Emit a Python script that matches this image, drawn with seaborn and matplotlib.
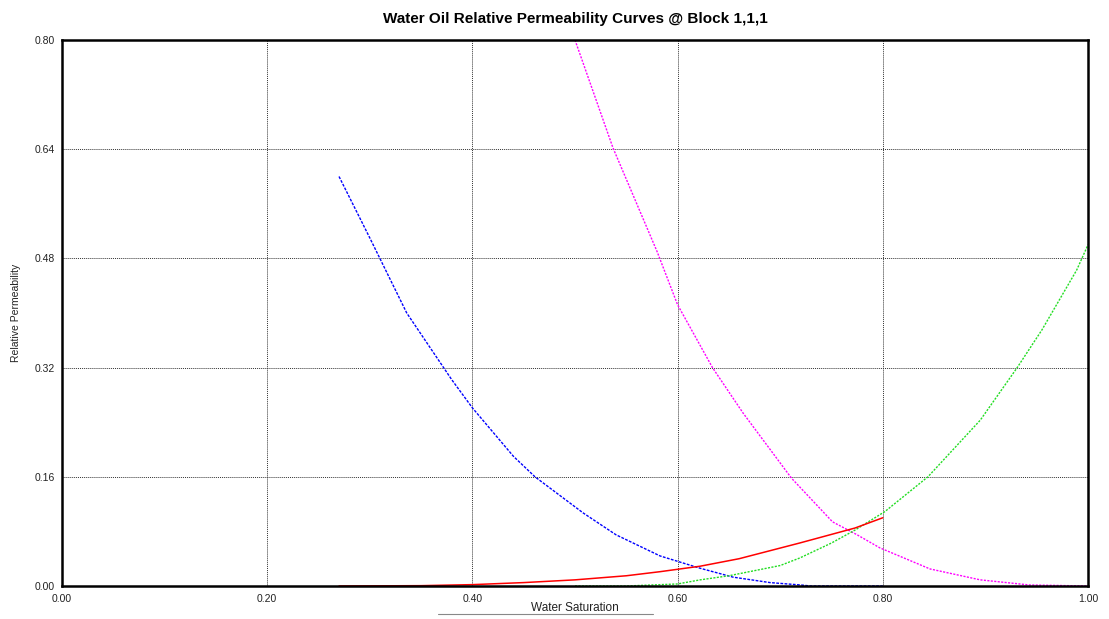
import matplotlib
matplotlib.use("Agg")
import matplotlib.pyplot as plt
import seaborn as sns
import numpy as np
from matplotlib.lines import Line2D

# ---- data ----
sw_blue = [0.27, 0.30, 0.336, 0.38, 0.40, 0.44, 0.461, 0.508, 0.54, 0.583, 0.622, 0.654, 0.69, 0.72, 0.73, 0.80]
kr_blue = [0.60, 0.51, 0.40, 0.302, 0.261, 0.19, 0.16, 0.107, 0.075, 0.044, 0.026, 0.013, 0.005, 0.0015, 0.0, 0.0]

sw_magenta = [0.50, 0.537, 0.58, 0.60, 0.634, 0.664, 0.711, 0.751, 0.775, 0.797, 0.846, 0.895, 0.943, 1.00]
kr_magenta = [0.80, 0.642, 0.49, 0.412, 0.32, 0.253, 0.158, 0.094, 0.075, 0.056, 0.025, 0.009, 0.0015, 0.0]

sw_green = [0.50, 0.55, 0.60, 0.622, 0.65, 0.70, 0.719, 0.75, 0.773, 0.802, 0.844, 0.895, 0.931, 0.955, 0.989, 1.00]
kr_green = [0.0, 0.0, 0.003, 0.009, 0.015, 0.030, 0.041, 0.063, 0.082, 0.109, 0.16, 0.243, 0.32, 0.375, 0.463, 0.50]

sw_red = [0.27, 0.35, 0.40, 0.45, 0.50, 0.55, 0.583, 0.622, 0.66, 0.719, 0.773, 0.80]
kr_red = [0.0, 0.0005, 0.002, 0.005, 0.009, 0.015, 0.021, 0.029, 0.040, 0.063, 0.085, 0.10]

x_ticks = [0.0, 0.2, 0.4, 0.6, 0.8, 1.0]
y_ticks = [0.0, 0.16, 0.32, 0.48, 0.64, 0.80]

title = "Water Oil Relative Permeability Curves @ Block 1,1,1"
xlabel = "Water Saturation"
ylabel = "Relative Permeability"

# ---- style ----
sns.set_style("white")
plt.rcParams["font.family"] = ["Liberation Sans", "DejaVu Sans"]

fig = plt.figure(figsize=(11.09, 6.19), dpi=100)
ax = fig.add_axes([62/1109, 1 - 586/619, (1088-62)/1109, (586-40)/619])

sns.lineplot(x=sw_blue, y=kr_blue, ax=ax, color="#0000ff", linewidth=1.0,
             linestyle=(0, (2, 1)), sort=False, zorder=3)
sns.lineplot(x=sw_magenta, y=kr_magenta, ax=ax, color="#ff00ff", linewidth=1.0,
             linestyle=(0, (1.5, 1)), sort=False, zorder=3)
sns.lineplot(x=sw_green, y=kr_green, ax=ax, color="#22dd22", linewidth=1.0,
             linestyle=(0, (1.5, 1)), sort=False, zorder=3)
sns.lineplot(x=sw_red, y=kr_red, ax=ax, color="#ff0000", linewidth=1.1,
             sort=False, zorder=4)

ax.set_xlim(0, 1.0)
ax.set_ylim(0, 0.80)
ax.set_xticks(x_ticks)
ax.set_yticks(y_ticks)
ax.set_xticklabels([f"{v:.2f}" for v in x_ticks])
ax.set_yticklabels([f"{v:.2f}" for v in y_ticks])
ax.tick_params(axis="both", which="major", direction="inout", length=6, width=1,
               color="black", labelsize=7.5, labelcolor="#222222", pad=2)
ax.tick_params(axis="x", pad=3)

ax.grid(True, color="#333333", linestyle=(0, (1, 1)), linewidth=0.7)
ax.set_axisbelow(True)
for sp in ax.spines.values():
    sp.set_color("black")
    sp.set_linewidth(1.8)
    sp.set_visible(True)
    sp.set_zorder(5)

ax.set_title(title, fontsize=11, fontweight="bold", pad=12, color="black")
ax.set_xlabel(xlabel, fontsize=8.5, color="#222222")
ax.xaxis.set_label_coords(0.5, -(608 - 586) / 546, transform=ax.transAxes)
ax.xaxis.label.set_va("center")
ax.set_ylabel(ylabel, fontsize=7.5, color="#222222")
ax.yaxis.set_label_coords((16 - 62) / 1026, 0.5, transform=ax.transAxes)
ax.yaxis.label.set_va("center")

# thin gray rule beneath the x-axis label
fig.add_artist(Line2D([438/1109, 653/1109], [1 - 614/619, 1 - 614/619],
                      color="#888888", linewidth=0.8))

fig.savefig("out.png", dpi=100)
